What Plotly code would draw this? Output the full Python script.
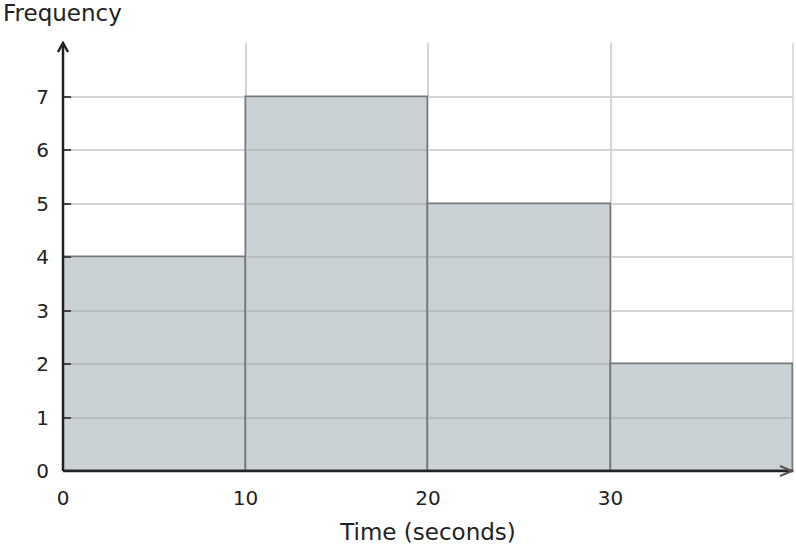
import plotly.graph_objects as go

# histogram data
bin_edges = [0, 10, 20, 30, 40]
frequencies = [4, 7, 5, 2]
x_ticks = [0, 10, 20, 30]
y_ticks = [0, 1, 2, 3, 4, 5, 6, 7]

centers = [(a + b) / 2 for a, b in zip(bin_edges[:-1], bin_edges[1:])]
widths = [b - a for a, b in zip(bin_edges[:-1], bin_edges[1:])]

font = "DejaVu Sans"
ink = "#222222"
grid = "#d4d4d4"

fig = go.Figure()
fig.add_trace(go.Bar(
    x=centers,
    y=frequencies,
    width=widths,
    marker=dict(color="rgba(150,165,172,0.5)",
                line=dict(color="#777777", width=1.5)),
    hoverinfo="x+y",
    showlegend=False,
))

# y-axis title at top-left
fig.add_annotation(text="Frequency", xref="paper", yref="paper",
                   x=-62 / 730, y=1 + 30 / 428, xanchor="left", yanchor="middle",
                   showarrow=False, font=dict(family=font, size=23, color=ink))

fig.update_layout(
    width=796, height=548,
    margin=dict(l=63, r=3, t=43, b=77),
    plot_bgcolor="white", paper_bgcolor="white",
    font=dict(family=font, color=ink, size=20),
    bargap=0,
    xaxis=dict(
        range=[0, 40], tickvals=x_ticks, showgrid=True,
        gridcolor=grid, gridwidth=1.5,
        ticks="outside", ticklen=9, tickcolor="rgba(0,0,0,0)",
        showline=False, zeroline=False,
        title=dict(text="Time (seconds)", font=dict(size=23), standoff=14),
    ),
    yaxis=dict(
        range=[0, 8], tickvals=y_ticks + [8], ticktext=[str(v) for v in y_ticks] + [""],
        showgrid=True, gridcolor=grid, gridwidth=1.5,
        ticks="inside", ticklen=8, tickcolor="#444444", tickwidth=2,
        ticklabelstandoff=13,
        showline=False, zeroline=False,
    ),
)

# right border gridline
fig.add_shape(type="line", x0=1, x1=1, y0=0, y1=1, xref="paper", yref="paper",
              line=dict(color=grid, width=1.5), layer="below")
# axis lines (paper refs so they are not clipped)
fig.add_shape(type="line", x0=0, x1=1, y0=0, y1=0, xref="paper", yref="paper",
              line=dict(color=ink, width=2.5))
fig.add_shape(type="line", x0=0, x1=0, y0=0, y1=1, xref="paper", yref="paper",
              line=dict(color=ink, width=2.5))
# open chevron arrowheads
fig.add_shape(type="path", xref="paper", yref="paper", xsizemode="pixel", ysizemode="pixel",
              xanchor=0, yanchor=1, path="M -5,-9 L 0,0 L 5,-9",
              line=dict(color=ink, width=2.5))
fig.add_shape(type="path", xref="paper", yref="paper", xsizemode="pixel", ysizemode="pixel",
              xanchor=1, yanchor=0, path="M -13,5 L -1,0 L -13,-5",
              line=dict(color="#555555", width=2))

fig.write_html("out.html", config={"displayModeBar": False},
               post_script="document.body.style.margin='0';")
